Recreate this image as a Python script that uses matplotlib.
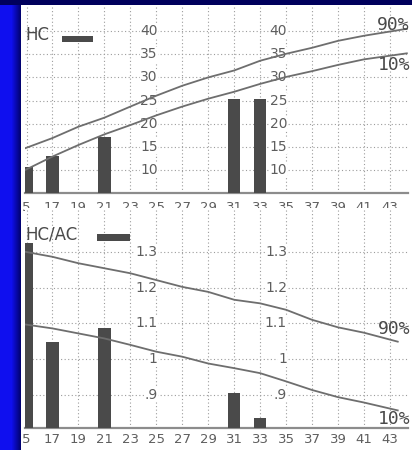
import numpy as np
import matplotlib
matplotlib.use('agg')
import matplotlib.pyplot as plt
from matplotlib.patches import Rectangle

# gestational weeks on the x axis (first label is cropped to "5" in the source)
week_ticks = [15, 17, 19, 21, 23, 25, 27, 29, 31, 33, 35, 37, 39, 41, 43]
week_labels = ["5", "17", "19", "21", "23", "25", "27", "29", "31", "33", "35", "37", "39", "41", "43"]

# head circumference (HC)
hc_weeks = [15, 17, 21, 31, 33]
hc_values = [10.6, 13.0, 17.2, 25.3, 25.3]
hc_ticks = [10, 15, 20, 25, 30, 35, 40]
hc_line_weeks = [14.9, 17, 19, 21, 23, 25, 27, 29, 31, 33, 35, 37, 39, 41, 44.3]
hc_p90 = [14.7, 16.9, 19.35, 21.3, 23.7, 26.05, 28.2, 30.0, 31.5, 33.6, 35.1, 36.4, 37.9, 39.0, 40.5]
hc_p10 = [10.0, 12.9, 15.4, 17.7, 19.7, 21.8, 23.7, 25.4, 26.9, 28.6, 30.1, 31.35, 32.7, 33.9, 35.2]

# HC/AC ratio
ratio_weeks = [15, 17, 21, 31, 33]
ratio_values = [1.324, 1.049, 1.088, 0.905, 0.837]
ratio_ticks = [0.9, 1.0, 1.1, 1.2, 1.3]
ratio_tick_labels = [".9", "1", "1.1", "1.2", "1.3"]
ratio_line_weeks = [14.9, 17, 19, 21, 23, 25, 27, 29, 31, 33, 35, 37, 39, 41, 43.6]
ratio_p90 = [1.300, 1.286, 1.268, 1.254, 1.240, 1.221, 1.202, 1.188, 1.166, 1.156, 1.138, 1.110, 1.089, 1.074, 1.049]
ratio_p10 = [1.097, 1.086, 1.072, 1.058, 1.040, 1.021, 1.007, 0.988, 0.975, 0.961, 0.938, 0.914, 0.894, 0.879, 0.857]

W, H = 412, 450
BAR_C = '#4a4a4a'
LINE_C = '#6e6e6e'
TXT_C = '#4a4a4a'
LBL_C = '#5e5e5e'
NARROW = ['Liberation Sans Narrow', 'DejaVu Sans']

fig = plt.figure(figsize=(W / 100, H / 100), dpi=100, facecolor='white')


def px_axes(x0, y0, x1, y1):
    return fig.add_axes([x0 / W, 1 - y1 / H, (x1 - x0) / W, (y1 - y0) / H])


def ftext(x, y, s, **kw):
    fig.text(x / W, 1 - y / H, s, **kw)


def style_panel(ax, yticks, ylim, pad):
    ax.set_xlim(14.884, 44.39)
    ax.set_ylim(*ylim)
    ax.set_xticks(week_ticks)
    ax.set_xticklabels(week_labels, family=NARROW, fontsize=9.5, color=LBL_C)
    ax.set_yticks(yticks)
    ax.tick_params(axis='x', length=0, pad=pad)
    ax.tick_params(axis='y', left=False, labelleft=False)
    ax.grid(True, color='#9c9c9c', linestyle=(0, (1, 2.2)), linewidth=0.8)
    ax.set_axisbelow(True)
    for s in ['top', 'left', 'right']:
        ax.spines[s].set_visible(False)
    ax.spines['bottom'].set_color('#8c8c8c')
    ax.spines['bottom'].set_linewidth(1.6)


def value_labels(ax, ticks, labels):
    for x in (25.1, 35.07):
        for v, lab in zip(ticks, labels):
            ax.text(x, v, lab, ha='right', va='center', family=NARROW, fontsize=10,
                    color=LBL_C, bbox=dict(facecolor='white', edgecolor='none', pad=0.3), zorder=3)


# top panel: HC
ax1 = px_axes(25, 5, 408, 193)
style_panel(ax1, hc_ticks, (5.03, 45.64), 5.5)
ax1.bar(hc_weeks, hc_values, width=0.95, color=BAR_C, zorder=4)
ax1.plot(hc_line_weeks, hc_p90, color=LINE_C, lw=1.3, zorder=5)
ax1.plot(hc_line_weeks, hc_p10, color=LINE_C, lw=1.3, zorder=5)
value_labels(ax1, hc_ticks, [str(v) for v in hc_ticks])

# bottom panel: HC/AC
ax2 = px_axes(25, 208, 408, 427.7)
style_panel(ax2, ratio_ticks, (0.8087, 1.4223), 4)
ax2.bar(ratio_weeks, ratio_values, width=0.95, color=BAR_C, zorder=4)
ax2.plot(ratio_line_weeks, ratio_p90, color=LINE_C, lw=1.3, zorder=5)
ax2.plot(ratio_line_weeks, ratio_p10, color=LINE_C, lw=1.3, zorder=5)
value_labels(ax2, ratio_ticks, ratio_tick_labels)

# legend-like titles
ftext(25, 35.5, "HC", ha='left', va='center', fontsize=12, color=TXT_C)
fig.patches.append(Rectangle((62 / W, 1 - 42 / H), 31 / W, 6 / H, transform=fig.transFigure,
                             facecolor=BAR_C, edgecolor='none'))
ftext(25, 234.5, "HC/AC", ha='left', va='center', fontsize=12, color=TXT_C)
fig.patches.append(Rectangle((97 / W, 1 - 241 / H), 33 / W, 7 / H, transform=fig.transFigure,
                             facecolor=BAR_C, edgecolor='none'))

# percentile labels
for (x, y, s) in [(377, 25, "90%"), (378, 65, "10%"), (378, 328.5, "90%"), (378, 419, "10%")]:
    ftext(x, y, s, ha='left', va='center', fontsize=13, color=TXT_C, family='DejaVu Sans Mono')

# blue slide border
band = fig.add_axes([0, 0, 21 / W, 1])
grad = np.ones((2, 21, 3))
ramp = np.clip((np.arange(21) - 11) / 10, 0, 1)
grad[:, :, 0] = 0.06 * (1 - ramp)
grad[:, :, 1] = 0.06 * (1 - ramp)
grad[:, :, 2] = 0.94 - 0.55 * ramp
band.imshow(grad, aspect='auto', extent=(0, 1, 0, 1))
band.axis('off')
fig.patches.append(Rectangle((0, 1 - 5 / H), 1, 5 / H, transform=fig.transFigure,
                             facecolor='#00005c', edgecolor='none', zorder=10))

fig.savefig('out.png', dpi=100, facecolor='white')
